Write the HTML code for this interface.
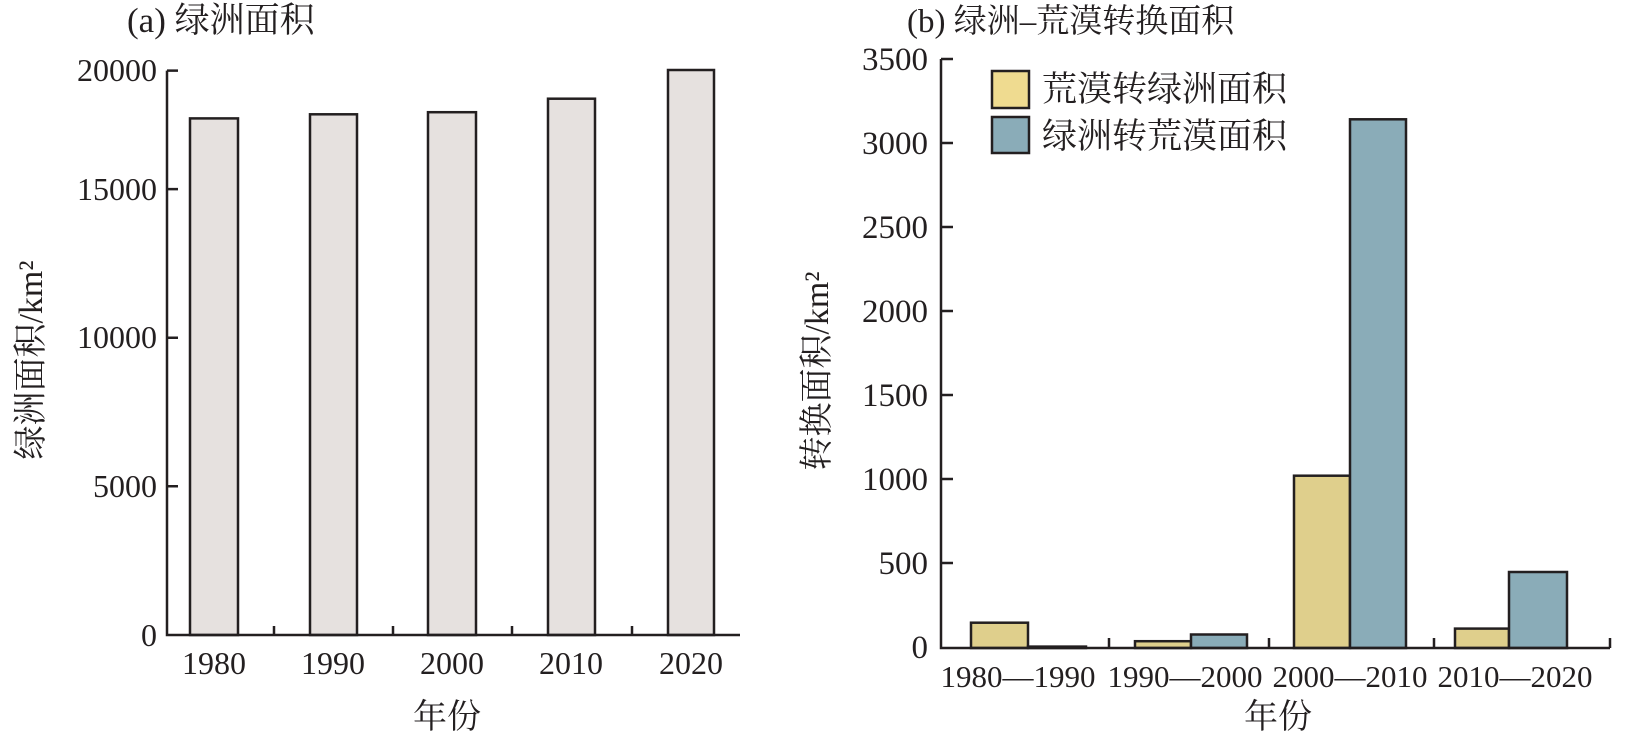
<!DOCTYPE html>
<html><head><meta charset="utf-8"><style>
html,body{margin:0;padding:0;background:#fff;}
svg text{font-family:"Liberation Serif","Noto Serif CJK SC","Noto Sans CJK SC",serif;fill:#231f20;}
</style></head><body>
<svg width="1629" height="735" viewBox="0 0 1629 735" xmlns="http://www.w3.org/2000/svg">
<g stroke="#231f20" stroke-width="2.5" fill="#e6e1df">
<rect x="190" y="118.4" width="48" height="516.6"/>
<rect x="310" y="114.3" width="47" height="520.7"/>
<rect x="428" y="112.2" width="48" height="522.8"/>
<rect x="548" y="98.7" width="47" height="536.3"/>
<rect x="668" y="70" width="46" height="565"/>
</g>
<g stroke="#231f20" stroke-width="2.5" fill="none">
<path d="M167 70.6 V635 H740"/>
<path d="M167 70.6 H178 M167 189.1 H178 M167 337.7 H178 M167 486.3 H178"/>
<path d="M274 635 V626 M393 635 V626 M512 635 V626 M632 635 V626"/>
</g>
<g font-size="32" text-anchor="end">
<text x="157" y="81">20000</text><text x="157" y="200">15000</text><text x="157" y="348">10000</text><text x="157" y="497">5000</text><text x="157" y="646">0</text>
</g>
<g font-size="32" text-anchor="middle">
<text x="214" y="674">1980</text><text x="333" y="674">1990</text><text x="452" y="674">2000</text><text x="571" y="674">2010</text><text x="691" y="674">2020</text>
<text x="447" y="728" font-size="34">年份</text>
<text x="1278" y="728" font-size="34">年份</text>
</g>
<text x="127" y="32" font-size="35">(a) 绿洲面积</text>
<text x="907" y="32" font-size="33">(b) 绿洲–荒漠转换面积</text>
<text transform="translate(42,360) rotate(-90)" font-size="34" text-anchor="middle">绿洲面积/km²</text>
<text transform="translate(828,371) rotate(-90)" font-size="34" text-anchor="middle">转换面积/km²</text>

<g stroke="#231f20" stroke-width="2.5">
<g fill="#dfcf8c">
<rect x="971" y="622.7" width="57" height="25.3"/>
<rect x="1135" y="641.2" width="56" height="6.8"/>
<rect x="1294" y="475.7" width="56" height="172.3"/>
<rect x="1455" y="628.6" width="54" height="19.4"/>
</g>
<g fill="#8aacb8">
<rect x="1028" y="646.6" width="58" height="1.4"/>
<rect x="1191" y="634.5" width="56" height="13.5"/>
<rect x="1350" y="119.3" width="56" height="528.7"/>
<rect x="1509" y="572" width="58" height="76"/>
</g>
<rect x="992" y="71" width="37" height="37" fill="#efdb90"/>
<rect x="992" y="117" width="37" height="36" fill="#8aacb8"/>
</g>
<g stroke="#231f20" stroke-width="2.5" fill="none">
<path d="M941 59 V648 H1610"/>
<path d="M941 59 H953 M941 143 H953 M941 227 H953 M941 311 H953 M941 395 H953 M941 479 H953 M941 563 H953"/>
<path d="M1109 648 V638 M1269 648 V638 M1434 648 V638 M1610 648 V638"/>
</g>
<g font-size="33" text-anchor="end">
<text x="928" y="70">3500</text><text x="928" y="154">3000</text><text x="928" y="238">2500</text><text x="928" y="322">2000</text><text x="928" y="406">1500</text><text x="928" y="490">1000</text><text x="928" y="574">500</text><text x="928" y="658">0</text>
</g>
<g font-size="31" text-anchor="middle">
<text x="1018" y="687">1980—1990</text><text x="1185" y="687">1990—2000</text><text x="1350" y="687">2000—2010</text><text x="1515" y="687">2010—2020</text>
</g>
<text x="1042" y="101" font-size="35">荒漠转绿洲面积</text>
<text x="1042" y="148" font-size="35">绿洲转荒漠面积</text>
</svg>
</body></html>
